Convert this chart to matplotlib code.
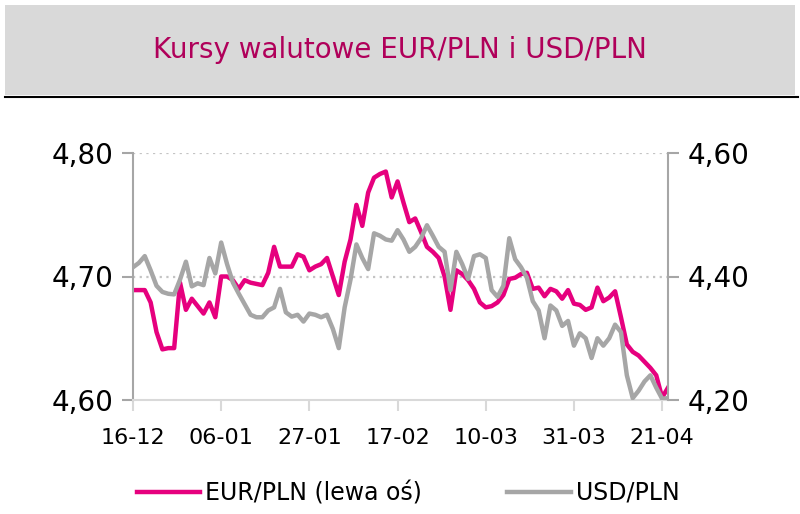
import matplotlib
matplotlib.use("Agg")
import matplotlib.pyplot as plt
from matplotlib.patches import Rectangle
from matplotlib.lines import Line2D
from matplotlib.ticker import FuncFormatter

# daily quotes (business days, 16-12 -> 24-04)
eur_pln = [4.689, 4.689, 4.689, 4.679, 4.655, 4.641, 4.642, 4.642, 4.695, 4.673,
           4.682, 4.676, 4.670, 4.679, 4.667, 4.700, 4.700, 4.697, 4.690, 4.697,
           4.695, 4.694, 4.693, 4.703, 4.724, 4.708, 4.708, 4.708, 4.718, 4.716,
           4.705, 4.708, 4.710, 4.715, 4.700, 4.685, 4.712, 4.730, 4.758, 4.741,
           4.768, 4.780, 4.783, 4.785, 4.764, 4.777, 4.760, 4.744, 4.747, 4.736,
           4.724, 4.720, 4.715, 4.700, 4.673, 4.705, 4.702, 4.697, 4.690, 4.679,
           4.675, 4.676, 4.679, 4.685, 4.698, 4.699, 4.702, 4.703, 4.690, 4.691,
           4.684, 4.690, 4.688, 4.682, 4.689, 4.678, 4.677, 4.673, 4.675, 4.691,
           4.680, 4.683, 4.688, 4.667, 4.645, 4.639, 4.636, 4.631, 4.626, 4.620,
           4.602, 4.610]
usd_pln = [4.415, 4.422, 4.433, 4.410, 4.385, 4.375, 4.372, 4.371, 4.395, 4.424,
           4.384, 4.389, 4.386, 4.430, 4.405, 4.455, 4.420, 4.390, 4.372, 4.355,
           4.338, 4.334, 4.334, 4.345, 4.350, 4.380, 4.342, 4.335, 4.338, 4.327,
           4.340, 4.338, 4.334, 4.338, 4.315, 4.284, 4.350, 4.395, 4.452, 4.430,
           4.412, 4.470, 4.466, 4.460, 4.458, 4.475, 4.460, 4.440, 4.448, 4.462,
           4.483, 4.466, 4.448, 4.440, 4.378, 4.440, 4.420, 4.396, 4.433, 4.436,
           4.430, 4.378, 4.367, 4.385, 4.462, 4.428, 4.415, 4.398, 4.360, 4.345,
           4.300, 4.353, 4.345, 4.320, 4.328, 4.288, 4.308, 4.300, 4.268, 4.300,
           4.288, 4.300, 4.322, 4.310, 4.240, 4.203, 4.215, 4.230, 4.240, 4.220,
           4.202, 4.203]
tick_pos = [0, 15, 30, 45, 60, 75, 90]
tick_labels = ['16-12', '06-01', '27-01', '17-02', '10-03', '31-03', '21-04']

pink = '#e6007e'
grey = '#a6a6a6'
light = '#d9d9d9'

fig = plt.figure(figsize=(8, 5.14), dpi=100)

# title box
fig.patches.append(Rectangle((5/800, 1-95/514), 790/800, 90/514, transform=fig.transFigure,
                             facecolor='#d9d9d9', edgecolor='none', zorder=0))
fig.lines.append(Line2D([5/800, 798/800], [1-97/514, 1-97/514], transform=fig.transFigure,
                        color='black', lw=1.5))
fig.text(0.5, 1-50/514, 'Kursy walutowe EUR/PLN i USD/PLN', ha='center', va='center',
         fontsize=20, color='#b0005a')

ax = fig.add_axes([133/800, 1-400/514, 535/800, 247/514])
x = list(range(len(eur_pln)))
ax.plot(x, eur_pln, color=pink, lw=3.2, label='EUR/PLN (lewa oś)')
ax.set_xlim(0, 91)
ax.set_ylim(4.60, 4.80)
ax.set_yticks([4.60, 4.70, 4.80])
ax.set_xticks(tick_pos)
ax.set_xticklabels(tick_labels)

comma = FuncFormatter(lambda v, p: f'{v:.2f}'.replace('.', ','))
ax.yaxis.set_major_formatter(comma)

for y in [4.70, 4.80]:
    ax.axhline(y, color='#c4c4c4', lw=1.6, ls=(0, (1, 2)), zorder=0)

ax.spines['top'].set_visible(False)
ax.spines['right'].set_visible(False)
ax.spines['left'].set_color(grey)
ax.spines['left'].set_linewidth(1.5)
ax.spines['bottom'].set_color(light)
ax.spines['bottom'].set_linewidth(1.5)
ax.tick_params(axis='y', colors=grey, labelcolor='black', labelsize=20, length=8, width=1.5, pad=6)
ax.tick_params(axis='x', colors=light, labelcolor='black', labelsize=16, length=8, width=1.5, pad=12)

ax2 = ax.twinx()
ax2.plot(x, usd_pln, color=grey, lw=3.2, label='USD/PLN')
ax2.set_ylim(4.20, 4.60)
ax2.set_yticks([4.20, 4.40, 4.60])
ax2.yaxis.set_major_formatter(comma)
for s in ['top', 'left', 'bottom']:
    ax2.spines[s].set_visible(False)
ax2.spines['right'].set_color(grey)
ax2.spines['right'].set_linewidth(1.5)
ax2.tick_params(axis='y', colors=grey, labelcolor='black', labelsize=20, length=8, width=1.5, pad=6)

h1, l1 = ax.get_legend_handles_labels()
h2, l2 = ax2.get_legend_handles_labels()
fig.legend(h1 + h2, l1 + l2, loc='center', bbox_to_anchor=(0.51, 1-493/514), ncol=2,
           frameon=False, fontsize=17, handlelength=2.7, handletextpad=0.2, columnspacing=3.6)

fig.savefig('out.png', dpi=100)
